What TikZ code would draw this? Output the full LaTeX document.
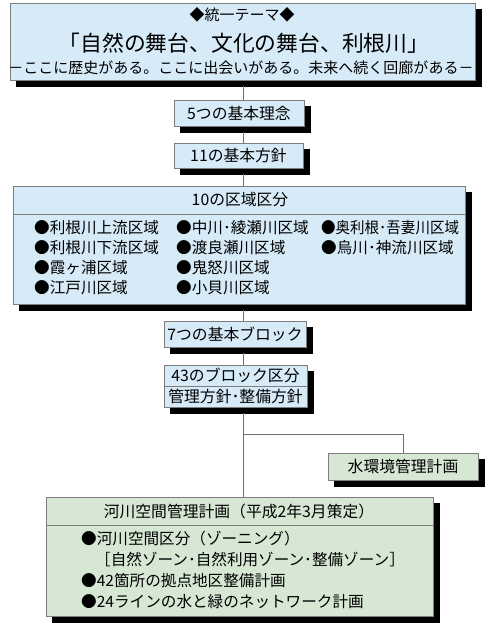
\documentclass[tikz,border=0pt]{standalone}
\usepackage{fontspec}
\newfontfamily\jp{Noto Sans CJK JP}
\definecolor{boxblue}{RGB}{214,234,248}
\definecolor{boxgreen}{RGB}{214,232,212}
\definecolor{bordergray}{RGB}{125,125,125}
\definecolor{wiregray}{RGB}{110,110,110}
\definecolor{shadowblack}{RGB}{0,0,0}
\tikzset{
  box/.style={draw=bordergray, line width=0.9pt, rectangle, inner sep=0pt},
  bluebox/.style={box, fill=boxblue},
  greenbox/.style={box, fill=boxgreen},
  shadowline/.style={draw=shadowblack, line width=6pt, line join=miter, line cap=butt},
  txt/.style={inner sep=0pt, font=\jp\fontsize{15.8}{18}\selectfont},
  item/.style={inner sep=0pt, anchor=west, font=\jp\fontsize{15.6}{18}\selectfont},
  small/.style={inner sep=0pt, font=\jp\fontsize{15}{17}\selectfont},
  bigtitle/.style={inner sep=0pt, font=\jp\fontsize{21.8}{24}\selectfont},
  divider/.style={draw=bordergray, line width=0.9pt},
  wireline/.style={draw=wiregray, line width=0.9pt}
}
\begin{document}
\begin{tikzpicture}[x=1pt,y=-1pt]
\useasboundingbox (0,0) rectangle (485,624);
\coordinate (spine) at (243,0);

\node[bluebox, minimum width=465pt, minimum height=77pt] (theme) at (242.5,41.5) {};
\node[bluebox, minimum width=130pt, minimum height=26pt] (kihon5) at (239,113) {};
\node[bluebox, minimum width=129pt, minimum height=25pt] (hoshin11) at (238.5,155.5) {};
\node[bluebox, minimum width=452pt, minimum height=118pt] (kuiki) at (239,245) {};
\node[bluebox, minimum width=142pt, minimum height=26pt] (block7) at (235,334) {};
\node[bluebox, minimum width=143pt, minimum height=42pt] (block43) at (235.5,386) {};
\node[greenbox, minimum width=150pt, minimum height=27pt] (mizu) at (403,466.5) {};
\node[greenbox, minimum width=387pt, minimum height=119pt] (kasen) at (239.5,556.5) {};

\foreach \n in {theme,kihon5,hoshin11,kuiki,block7,block43,mizu,kasen}{
  \draw[shadowline] ([shift={(3.5,6)}]\n.north east) -- ([shift={(3.5,3.5)}]\n.south east)
    -- ([shift={(6,3.5)}]\n.south west);
}

\coordinate (branch) at (243,434);
\draw[wireline] (spine |- theme.south) ++(0,6) -- (spine |- kihon5.north);
\draw[wireline] (spine |- kihon5.south) ++(0,6) -- (spine |- hoshin11.north);
\draw[wireline] (spine |- hoshin11.south) ++(0,6) -- (spine |- kuiki.north);
\draw[wireline] (spine |- kuiki.south) ++(0,6) -- (spine |- block7.north);
\draw[wireline] (spine |- block7.south) ++(0,6) -- (spine |- block43.north);
\draw[wireline] (spine |- block43.south) ++(0,6) -- (spine |- kasen.north);
\draw[wireline] (branch) -| (mizu.north);

\coordinate (dk) at (0,214);
\coordinate (db) at (0,386);
\coordinate (dg) at (0,525);
\draw[divider] (kuiki.west |- dk) -- (kuiki.east |- dk);
\draw[divider] (block43.west |- db) -- (block43.east |- db);
\draw[divider] (kasen.west |- dg) -- (kasen.east |- dg);

\node[small] (th1) at (242,15) {◆統一テーマ◆};
\node[bigtitle] (th2) at (244,43) {「自然の舞台、文化の舞台、利根川」};
\node[small] (th3) at (241,68) {－ここに歴史がある。ここに出会いがある。未来へ続く回廊がある－};

\node[txt] (l5) at (239,113) {5つの基本理念};
\node[txt] (l11) at (238.5,155.5) {11の基本方針};
\node[txt] (l10) at (240,200) {10の区域区分};

\node[item] (k1) at (34,228) {●利根川上流区域};
\node[item] (k2) at (34,248) {●利根川下流区域};
\node[item] (k3) at (34,268) {●霞ヶ浦区域};
\node[item] (k4) at (34,288) {●江戸川区域};
\node[item] (k5) at (176,228) {●中川･綾瀬川区域};
\node[item] (k6) at (176,248) {●渡良瀬川区域};
\node[item] (k7) at (176,268) {●鬼怒川区域};
\node[item] (k8) at (176,288) {●小貝川区域};
\node[item] (k9) at (321,228) {\scalebox{0.93}[1]{●奥利根･吾妻川区域}};
\node[item] (k10) at (321,248) {●烏川･神流川区域};

\node[txt] (l7) at (235,334) {7つの基本ブロック};
\node[txt] (l43) at (235.5,375.5) {43のブロック区分};
\node[txt] (l43b) at (235.5,396.5) {管理方針･整備方針};

\node[txt] (lm) at (403,466.5) {水環境管理計画};
\node[txt] (lk) at (239,511) {河川空間管理計画（平成2年3月策定）};
\node[item] (g1) at (81,539) {●河川空間区分（ゾーニング）};
\node[item] (g2) at (95,560) {［自然ゾーン･自然利用ゾーン･整備ゾーン］};
\node[item] (g3) at (81,581) {●42箇所の拠点地区整備計画};
\node[item] (g4) at (81,602) {●24ラインの水と緑のネットワーク計画};
\end{tikzpicture}
\end{document}
